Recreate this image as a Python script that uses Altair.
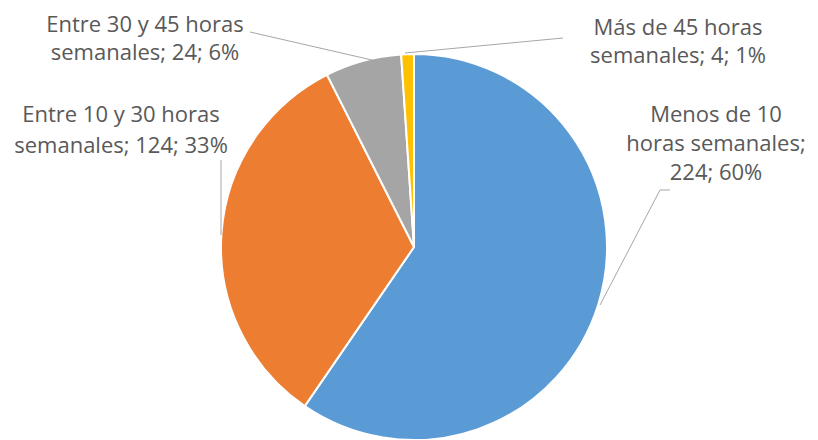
import altair as alt
import pandas as pd

categories = ["Menos de 10 horas semanales", "Entre 10 y 30 horas semanales",
              "Entre 30 y 45 horas semanales", "Más de 45 horas semanales"]
values = [224, 124, 24, 4]
percents = [60, 33, 6, 1]
colors = ["#5B9BD5", "#ED7D31", "#A5A5A5", "#FFC000"]
words_per_line = [[3, 2, 2], [5, 3], [5, 3], [4, 3]]


def wrap(text, counts):
    words = text.split(" ")
    lines, i = [], 0
    for c in counts:
        lines.append(" ".join(words[i:i + c]))
        i += c
    return "\n".join(lines)


labels = [wrap(f"{c}; {v}; {p}%", w)
          for c, v, p, w in zip(categories, values, percents, words_per_line)]

df = pd.DataFrame({"cat": categories, "value": values, "idx": list(range(4)), "label": labels})

W, H = 802, 432
CX, CY, R = 406, 239, 193

base = alt.Chart(df)
pie = base.mark_arc(outerRadius=R, stroke="white", strokeWidth=2).encode(
    theta=alt.Theta("value:Q", stack=True),
    color=alt.Color("cat:N", scale=alt.Scale(domain=categories, range=colors), legend=None),
    order=alt.Order("idx:Q"),
    x=alt.value(CX), y=alt.value(CY),
)

FONT = "Open Sans"
TXT = "#595959"
LINE = "#A6A6A6"

# label anchor positions (center x, first baseline y) and line heights
label_pos = [(708, 114, 29), (113, 114, 31), (137, 24, 28), (670, 27, 28)]
text_layers = []
for i, (lx, ly, lh) in enumerate(label_pos):
    text_layers.append(
        base.transform_filter(alt.datum.idx == i).mark_text(
            font=FONT, fontSize=22, color=TXT, align="center", baseline="alphabetic",
            lineBreak="\n", lineHeight=lh
        ).encode(text="label:N", x=alt.value(lx), y=alt.value(ly))
    )

leader_segments = [
    (592, 297, 652, 182), (652, 182, 662, 182),
    (213, 152, 213, 227),
    (242, 24, 364, 52),
    (397, 45, 555, 30),
]
rules = []
for (x1, y1, x2, y2) in leader_segments:
    rules.append(
        alt.Chart(pd.DataFrame({"a": [0]})).mark_rule(color=LINE, strokeWidth=1).encode(
            x=alt.value(x1), y=alt.value(y1), x2=alt.value(x2), y2=alt.value(y2)
        )
    )

chart = alt.layer(pie, *rules, *text_layers).properties(
    width=W, height=H, padding=0, autosize=alt.AutoSizeParams(type="none")
).configure_view(stroke=None)

chart.save("out.html", embed_options={"renderer": "svg", "actions": False})
